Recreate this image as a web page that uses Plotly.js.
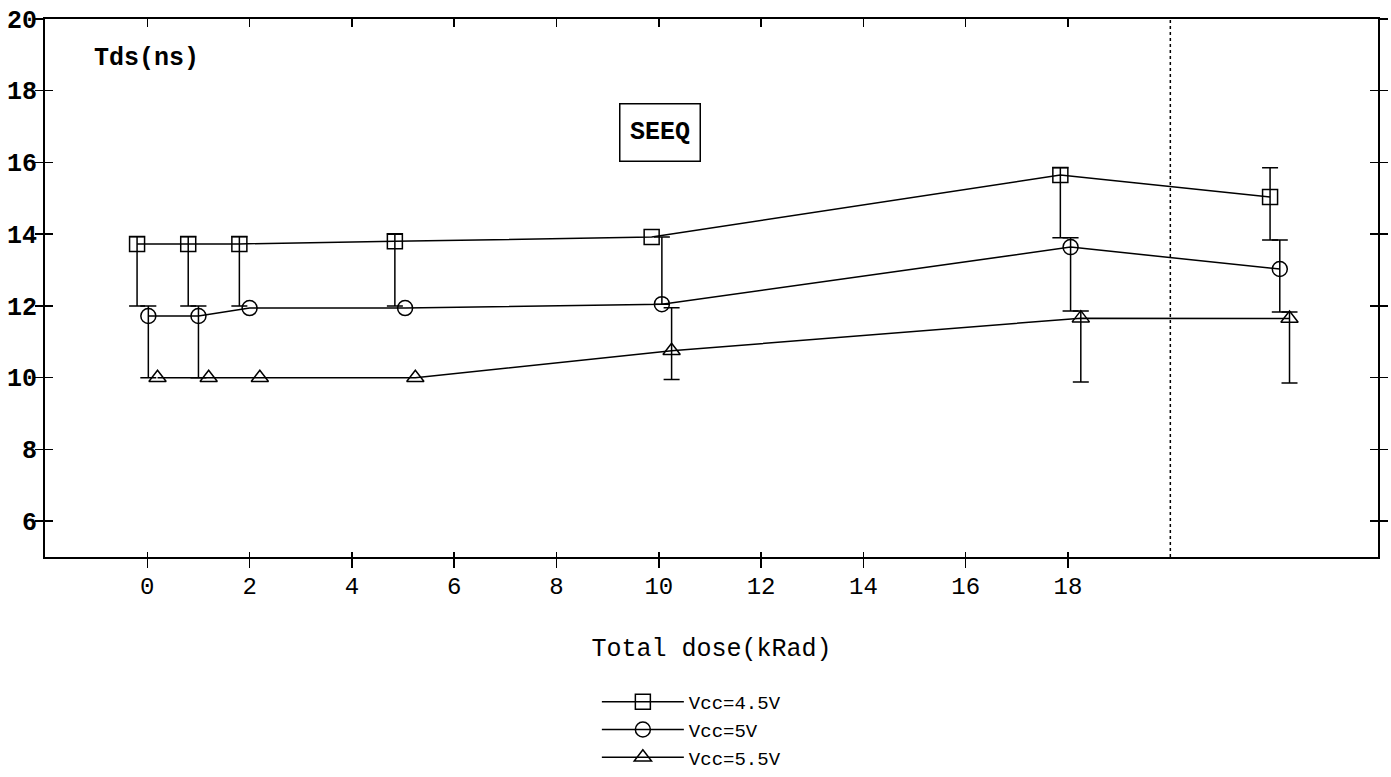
<!DOCTYPE html>
<html>
<head>
<meta charset="utf-8">
<script src="https://cdn.plot.ly/plotly-3.0.1.min.js"></script>
<style>
  html, body { margin: 0; padding: 0; background: #fff; }
  #chart { width: 1391px; height: 777px; }
</style>
</head>
<body>
<div id="chart"></div>
<script>
// ---- data ----
const seriesNames = ['Vcc=4.5V', 'Vcc=5V', 'Vcc=5.5V'];
const doseTicks = [0, 2, 4, 6, 8, 10, 12, 14, 16, 18];
const tdsTicks = [6, 8, 10, 12, 14, 16, 18, 20];
const breakDose = 20;

const dose45 = [-0.2, 0.8, 1.8, 4.84, 9.86, 17.85, 21.95];
const tds45 = [13.73, 13.73, 13.73, 13.8, 13.92, 15.65, 15.04];
const errUp45 = [0.2, 0.2, 0.2, 0.2, NaN, 0.2, 0.81];
const errDn45 = [1.73, 1.73, 1.73, 1.8, NaN, 1.75, 1.2];

const dose5 = [0.02, 1.0, 2.0, 5.04, 10.06, 18.05, 22.14];
const tds5 = [11.72, 11.72, 11.94, 11.94, 12.05, 13.64, 13.03];
const errUp5 = [0.28, 0.28, NaN, NaN, 1.87, 0.26, 0.81];
const errDn5 = [1.72, 1.72, NaN, NaN, 0, 1.78, 1.2];

const dose55 = [0.2, 1.2, 2.2, 5.24, 10.25, 18.25, 22.33];
const tds55 = [10, 10, 10, 10, 10.75, 11.66, 11.65];
const errUp55 = [NaN, NaN, NaN, NaN, 1.2, 0.2, 0.18];
const errDn55 = [NaN, NaN, NaN, NaN, 0.8, 1.78, 1.8];

const FONT = 'Liberation Mono, Courier New, monospace';

function series(name, x, y, up, dn, symbol) {
  return {
    type: 'scatter', mode: 'lines+markers', name: name,
    x: x, y: y,
    line: { color: '#000', width: 1.5 },
    marker: { symbol: symbol, size: 15, color: '#000', line: { color: '#000', width: 1.5 } },
    error_y: { type: 'data', symmetric: false, array: up, arrayminus: dn,
               color: '#000', thickness: 1.5, width: 8 },
    cliponaxis: false
  };
}

const traces = [
  series(seriesNames[0], dose45, tds45, errUp45, errDn45, 'square-open'),
  series(seriesNames[1], dose5, tds5, errUp5, errDn5, 'circle-open'),
  series(seriesNames[2], dose55, tds55, errUp55, errDn55, 'triangle-up-open'),
  { type: 'scatter', x: [], y: [], xaxis: 'x2', yaxis: 'y2', showlegend: false, hoverinfo: 'skip' },
  { type: 'scatter', x: [], y: [], xaxis: 'x3', yaxis: 'y2', showlegend: false, hoverinfo: 'skip' }
];

const xRange = [-2, 24.06];
const yRange = [5, 20];

const layout = {
  width: 1391, height: 777,
  margin: { l: 45, r: 13, t: 19, b: 220, autoexpand: false },
  paper_bgcolor: '#fff', plot_bgcolor: '#fff',
  font: { family: FONT, color: '#000' },
  showlegend: true,
  legend: {
    xref: 'paper', yref: 'container',
    x: 0.414, y: 0.121, xanchor: 'left', yanchor: 'top',
    font: { family: FONT, size: 19, color: '#000' },
    itemwidth: 82, bgcolor: 'rgba(0,0,0,0)', borderwidth: 0
  },
  xaxis: {
    range: xRange, tickmode: 'array', tickvals: doseTicks, ticktext: doseTicks.map(String),
    ticks: 'outside', ticklen: 9, tickwidth: 1.5, tickcolor: '#000',
    showline: true, linecolor: '#000', linewidth: 2, mirror: true,
    showgrid: false, zeroline: false,
    tickfont: { family: FONT, size: 24, color: '#000' },
    ticklabelstandoff: -3,
    title: { text: 'Total dose(kRad)', font: { family: FONT, size: 25, color: '#000' }, standoff: 39 }
  },
  xaxis2: {
    overlaying: 'x', range: xRange, tickmode: 'array', tickvals: doseTicks,
    ticks: 'inside', ticklen: 5, tickwidth: 1.5, tickcolor: '#000',
    showticklabels: false, showline: false, showgrid: false, zeroline: false
  },
  xaxis3: {
    overlaying: 'x', side: 'top', range: xRange, tickmode: 'array', tickvals: doseTicks,
    ticks: 'inside', ticklen: 8, tickwidth: 1.5, tickcolor: '#000',
    showticklabels: false, showline: false, showgrid: false, zeroline: false
  },
  yaxis: {
    range: yRange, tickmode: 'array', tickvals: tdsTicks, ticktext: tdsTicks.map(String),
    ticks: 'outside', ticklen: 8, tickwidth: 1.5, tickcolor: '#000',
    showline: true, linecolor: '#000', linewidth: 2, mirror: 'ticks',
    showgrid: false, zeroline: false,
    tickfont: { family: FONT, size: 25, color: '#000', weight: 'bold' },
    ticklabelstandoff: -7
  },
  yaxis2: {
    overlaying: 'y', range: yRange, tickmode: 'array', tickvals: tdsTicks,
    ticks: 'inside', ticklen: 8, tickwidth: 1.5, tickcolor: '#000', mirror: 'ticks',
    showticklabels: false, showline: false, showgrid: false, zeroline: false
  },
  shapes: [{
    type: 'line', xref: 'x', yref: 'paper', x0: breakDose, x1: breakDose, y0: 0, y1: 1,
    line: { color: '#000', width: 1.5, dash: 'dot' }
  }],
  annotations: [
    { text: 'Tds(ns)', xref: 'paper', yref: 'paper', x: 0.035, y: 0.927,
      xanchor: 'left', yanchor: 'middle', showarrow: false,
      font: { family: FONT, size: 25, color: '#000', weight: 'bold' } },
    { text: 'SEEQ', xref: 'paper', yref: 'paper', x: 0.461, y: 0.789,
      xanchor: 'center', yanchor: 'middle', showarrow: false,
      width: 75, height: 52, borderpad: 2,
      bordercolor: '#000', borderwidth: 1.5,
      font: { family: FONT, size: 25, color: '#000', weight: 'bold' } }
  ]
};

Plotly.newPlot('chart', traces, layout, { staticPlot: true, displayModeBar: false });
</script>
</body>
</html>
